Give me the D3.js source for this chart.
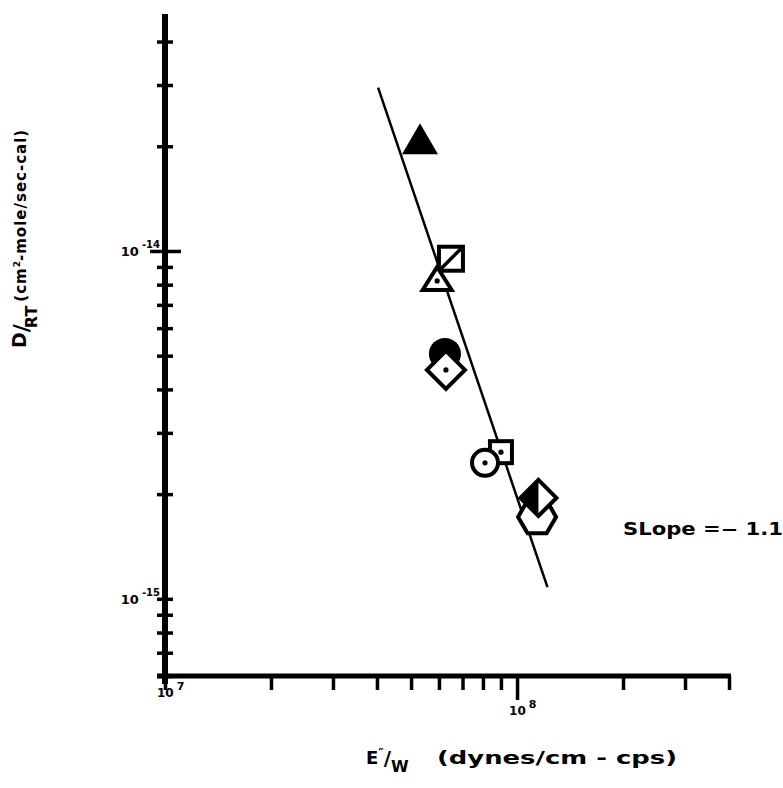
<!DOCTYPE html>
<html>
<head>
<meta charset="utf-8">
<script src="https://cdn.jsdelivr.net/npm/d3@7"></script>
<style>
body { margin: 0; background: #fff; }
text { font-family: "DejaVu Sans", sans-serif; font-weight: bold; fill: #000; }
</style>
</head>
<body>
<script>
// E''/W (dynes/cm-cps) and D/RT values, one per symbol
var symbols = ['triangle-filled', 'square-slash', 'triangle-dot', 'circle-filled', 'diamond-dot',
               'square-dot', 'circle-dot', 'hexagon', 'diamond-half'];
var xVals = [5.30e7, 6.49e7, 5.93e7, 6.24e7, 6.28e7, 9.0e7, 8.11e7, 1.14e8, 1.15e8];
var yVals = [2.08e-14, 9.5e-15, 8.2e-15, 5.06e-15, 4.55e-15, 2.64e-15, 2.46e-15, 1.72e-15, 1.95e-15];

// fitted line, end points
var fitX = [4.03e7, 1.22e8];
var fitY = [2.95e-14, 1.08e-15];

// ticks
var xTicks = [1e7, 2e7, 3e7, 4e7, 5e7, 6e7, 7e7, 8e7, 9e7, 1e8, 2e8, 3e8, 4e8];
var yTicks = [6e-16, 7e-16, 8e-16, 9e-16, 1e-15, 2e-15, 3e-15, 4e-15, 5e-15, 6e-15, 7e-15, 8e-15, 9e-15,
              1e-14, 2e-14, 3e-14, 4e-14];
var xLabelVals = [1e7, 1e8];
var xLabelExp = ['7', '8'];
var yLabelVals = [1e-14, 1e-15];
var yLabelExp = ['-14', '-15'];

var slopeText = 'SLope =\u2212 1.1';

var width = 783, height = 788;
var svg = d3.select('body').append('svg')
  .attr('width', width)
  .attr('height', height);

var x = d3.scaleLog().domain([1e7, 4e8]).range([165, 729]);
var y = d3.scaleLog().domain([6e-16, 4.8e-14]).range([676, 14]);

var axisX0 = x(1e7), axisY0 = y(6e-16);

// y axis: ticks cross the line
var gy = svg.append('g')
  .attr('transform', 'translate(' + axisX0 + ',0)')
  .call(d3.axisLeft(y).tickValues(yTicks).tickSize(8).tickFormat(''));
gy.select('.domain').remove();
gy.selectAll('.tick line')
  .attr('x1', function(d) { return d === 1e-14 ? 16 : 8; })
  .attr('x2', function(d) { return d === 1e-14 ? -15 : -8; })
  .attr('stroke', '#000')
  .attr('stroke-width', 3.5);
gy.append('line')
  .attr('x1', 0).attr('x2', 0)
  .attr('y1', y(4.8e-14)).attr('y2', axisY0 + 8)
  .attr('stroke', '#000').attr('stroke-width', 6);

// x axis: ticks hang below
var gx = svg.append('g')
  .attr('transform', 'translate(0,' + axisY0 + ')')
  .call(d3.axisBottom(x).tickValues(xTicks).tickSize(14).tickFormat(''));
gx.select('.domain').remove();
gx.selectAll('.tick line')
  .attr('y2', function(d) { return d === 1e8 ? 24 : 14; })
  .attr('stroke', '#000')
  .attr('stroke-width', 3.5);
gx.append('line')
  .attr('x1', axisX0 - 8).attr('x2', x(4e8) + 2)
  .attr('y1', 0).attr('y2', 0)
  .attr('stroke', '#000').attr('stroke-width', 5);

// tick labels
yLabelVals.forEach(function(v, i) {
  var t = svg.append('text')
    .attr('x', axisX0 - 5)
    .attr('y', y(v) + 5)
    .attr('text-anchor', 'end')
    .style('font-size', '13px');
  t.append('tspan').text('10');
  t.append('tspan').attr('dx', 3).attr('dy', -8).style('font-size', '10px').text(yLabelExp[i]);
});
xLabelVals.forEach(function(v, i) {
  var t = svg.append('text')
    .attr('x', x(v) - 8)
    .attr('y', axisY0 + (v === 1e8 ? 39 : 21))
    .style('font-size', '12px');
  t.append('tspan').text('10');
  t.append('tspan').attr('dx', 3).attr('dy', -7).style('font-size', '11px').text(xLabelExp[i]);
});

// fitted line
svg.append('line')
  .attr('x1', x(fitX[0])).attr('y1', y(fitY[0]))
  .attr('x2', x(fitX[1])).attr('y2', y(fitY[1]))
  .attr('stroke', '#000').attr('stroke-width', 2.5);

// markers
function dot(g) {
  g.append('circle').attr('r', 2.6).attr('fill', '#000');
}
function outline(sel) {
  return sel.attr('fill', '#fff').attr('stroke', '#000').attr('stroke-width', 4).attr('stroke-linejoin', 'miter');
}
function drawMarker(g, kind) {
  if (kind === 'triangle-filled') {
    g.append('path').attr('d', 'M0,-17L18,14L-18,14Z').attr('fill', '#000');
  } else if (kind === 'square-slash') {
    outline(g.append('rect').attr('x', -12).attr('y', -12).attr('width', 24).attr('height', 24));
    g.append('line').attr('x1', -11).attr('y1', 11).attr('x2', 11).attr('y2', -11)
      .attr('stroke', '#000').attr('stroke-width', 3.5);
  } else if (kind === 'triangle-dot') {
    outline(g.append('path').attr('d', 'M0,-14L14.5,9L-14.5,9Z'));
    dot(g);
  } else if (kind === 'circle-filled') {
    g.append('circle').attr('r', 16).attr('fill', '#000');
  } else if (kind === 'diamond-dot') {
    outline(g.append('path').attr('d', 'M0,-19L19,0L0,19L-19,0Z'));
    dot(g);
  } else if (kind === 'square-dot') {
    outline(g.append('rect').attr('x', -11).attr('y', -11).attr('width', 22).attr('height', 22));
    dot(g);
  } else if (kind === 'circle-dot') {
    outline(g.append('circle').attr('r', 13));
    dot(g);
  } else if (kind === 'hexagon') {
    var R = 19, pts = [];
    for (var k = 0; k < 6; k++) {
      var a = Math.PI / 3 * k;
      pts.push([R * Math.cos(a), R * Math.sin(a)]);
    }
    outline(g.append('path').attr('d', 'M' + pts.join('L') + 'Z'));
  } else if (kind === 'diamond-half') {
    outline(g.append('path').attr('d', 'M0,-18L18,0L0,18L-18,0Z'));
    g.append('path').attr('d', 'M0,-18L-18,0L0,18Z').attr('fill', '#000');
  }
}

// drawing order matters: later symbols cover earlier ones
symbols.forEach(function(s, i) {
  var g = svg.append('g')
    .attr('transform', 'translate(' + x(xVals[i]) + ',' + y(yVals[i]) + ')');
  drawMarker(g, s);
});

// slope note
svg.append('text')
  .attr('x', 623).attr('y', 535)
  .attr('textLength', 160)
  .attr('lengthAdjust', 'spacingAndGlyphs')
  .style('font-size', '17px')
  .text(slopeText);

// x title: E''/W (dynes/cm - cps)
var xt = svg.append('text').attr('x', 366).attr('y', 764).style('font-size', '18px');
xt.append('tspan').text('E');
xt.append('tspan').attr('dy', -7).style('font-size', '12px').text('\u2033');
xt.append('tspan').attr('dy', 8).style('font-size', '20px').text('/');
xt.append('tspan').attr('dy', 7).style('font-size', '16px').text('W');
xt.append('tspan').attr('x', 437).attr('dy', -8)
  .attr('textLength', 240).attr('lengthAdjust', 'spacingAndGlyphs')
  .style('font-size', '17px').text('(dynes/cm - cps)');

// y title: D/RT (cm2-mole/sec-cal)
var yt = svg.append('text')
  .attr('transform', 'translate(32,348) rotate(-90)')
  .style('font-size', '15px');
yt.append('tspan').attr('dy', -6).style('font-size', '19px').text('D');
yt.append('tspan').attr('dy', 3).style('font-size', '22px').text('/');
yt.append('tspan').attr('dx', -4).attr('dy', 8).style('font-size', '16px').text('RT');
yt.append('tspan').attr('dx', 4).attr('dy', -11).style('letter-spacing', '1px').text('(cm');
yt.append('tspan').attr('dy', -6).style('font-size', '9px').text('2');
yt.append('tspan').attr('dy', 6).style('letter-spacing', '1px').text('-mole/sec-cal)');
</script>
</body>
</html>
